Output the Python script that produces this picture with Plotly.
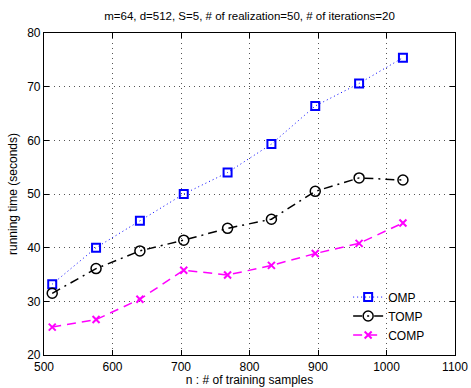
import plotly.graph_objects as go

n_samples = [512, 576, 640, 704, 768, 832, 896, 960, 1024]
omp_time = [33.2, 40.0, 45.0, 50.0, 54.0, 59.3, 66.4, 70.6, 75.4]
tomp_time = [31.5, 36.1, 39.4, 41.4, 43.6, 45.3, 50.5, 53.0, 52.6]
comp_time = [25.2, 26.6, 30.4, 35.8, 34.9, 36.7, 38.9, 40.8, 44.6]
x_ticks = [500, 600, 700, 800, 900, 1000, 1100]
y_ticks = [20, 30, 40, 50, 60, 70, 80]

FONT = "Liberation Sans, Arial, Helvetica, sans-serif"

fig = go.Figure()
fig.add_trace(go.Scatter(
    x=n_samples, y=omp_time, name="OMP", mode="lines+markers",
    line=dict(color="#0000FF", width=1, dash="1px,3px"),
    marker=dict(symbol="square-open", size=8, color="#0000FF", line=dict(width=2)),
))
fig.add_trace(go.Scatter(
    x=n_samples, y=tomp_time, name="TOMP", mode="lines+markers",
    line=dict(color="#000000", width=1.5, dash="9px,5px,2px,5px"),
    marker=dict(symbol="circle-open", size=10, color="#000000", line=dict(width=1.5)),
))
fig.add_trace(go.Scatter(
    x=n_samples, y=comp_time, name="COMP", mode="lines+markers",
    line=dict(color="#FF00FF", width=1.5, dash="9px,6px"),
    marker=dict(symbol="x-thin", size=7, color="#FF00FF", line=dict(width=2, color="#FF00FF")),
))

axis_common = dict(
    showline=True, linecolor="black", linewidth=1.2, mirror="ticks",
    ticks="inside", ticklen=5, tickcolor="black",
    showgrid=True, gridcolor="#555555", griddash="1px,4px", gridwidth=1,
    zeroline=False, automargin=False,
    tickfont=dict(family=FONT, size=12, color="black"),
)

fig.update_layout(
    width=471, height=388,
    margin=dict(l=44, r=16, t=33, b=33, autoexpand=False),
    paper_bgcolor="white", plot_bgcolor="white",
    font=dict(family=FONT, size=12, color="black"),
    title=dict(text="m=64, d=512, S=5, # of realization=50, # of iterations=20",
               x=(44 + 455) / 2 / 471, xanchor="center", y=1 - 16 / 388, yanchor="middle",
               font=dict(family=FONT, size=11.5, color="black")),
    xaxis=dict(range=[500, 1100], tickvals=x_ticks,
               title=dict(text="n : # of training samples", standoff=2,
                          font=dict(family=FONT, size=12)),
               **axis_common),
    yaxis=dict(range=[20, 80], tickvals=y_ticks,
               title=dict(text="running time (seconds)", standoff=6,
                          font=dict(family=FONT, size=12)),
               **axis_common),
    legend=dict(x=0.74, y=0.225, xanchor="left", yanchor="top",
                bgcolor="rgba(0,0,0,0)", borderwidth=0,
                font=dict(family=FONT, size=12), tracegroupgap=0),
    showlegend=True,
)

fig.write_html("out.html", config={"displayModeBar": False},
               post_script="document.body.style.margin='0';document.body.style.overflow='hidden';")
